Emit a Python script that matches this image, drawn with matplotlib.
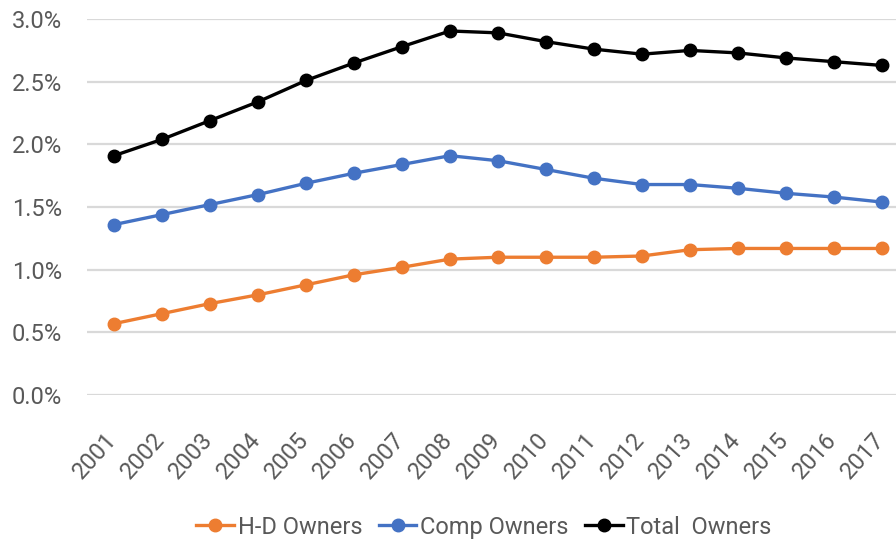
import numpy as np
import matplotlib
matplotlib.use("Agg")
import matplotlib.pyplot as plt
import matplotlib.transforms as mtransforms
from matplotlib.ticker import PercentFormatter

plt.rcParams['font.family'] = ['Roboto', 'DejaVu Sans']

years = [str(y) for y in range(2001, 2018)]
hd_owners = [0.57, 0.65, 0.73, 0.80, 0.88, 0.96, 1.02, 1.085, 1.10, 1.10,
             1.10, 1.11, 1.16, 1.17, 1.17, 1.17, 1.17]
comp_owners = [1.36, 1.44, 1.52, 1.60, 1.69, 1.77, 1.84, 1.91, 1.87, 1.80,
               1.73, 1.68, 1.68, 1.65, 1.61, 1.58, 1.54]
total_owners = [1.91, 2.04, 2.19, 2.34, 2.51, 2.65, 2.78, 2.905, 2.89, 2.82,
                2.76, 2.72, 2.75, 2.73, 2.69, 2.66, 2.63]
yticks = [0.0, 0.5, 1.0, 1.5, 2.0, 2.5, 3.0]

grey = '#595959'
fig = plt.figure(figsize=(8.96, 5.45), dpi=100)
ax = fig.add_axes([0.097, 0.275, 0.903, 0.69])

x = np.arange(len(years))
series = [
    (hd_owners, '#ed7d31', 'H-D Owners'),
    (comp_owners, '#4472c4', 'Comp Owners'),
    (total_owners, '#000000', 'Total  Owners'),
]
for vals, col, lab in series:
    ax.plot(x, vals, color=col, lw=2.4, marker='o', ms=9, label=lab,
            clip_on=False)

ax.set_ylim(0, 3.0)
ax.set_yticks(yticks)
ax.yaxis.set_major_formatter(PercentFormatter(decimals=1))
ax.set_xlim(-0.5625, 16.29)
ax.set_xticks(x)
ax.set_xticklabels([])
# rotated year labels, nudged left like excel
off = mtransforms.ScaledTranslation(-7 / 72, -24 / 72, fig.dpi_scale_trans)
for i, yr in zip(x, years):
    ax.text(i, 0, yr, transform=ax.get_xaxis_transform() + off,
            rotation=48, ha='right', va='top', rotation_mode='anchor',
            fontsize=17, color=grey)
ax.grid(axis='y', color='#d9d9d9', lw=1.6)
ax.set_axisbelow(True)
for s in ax.spines.values():
    s.set_visible(False)
ax.tick_params(axis='y', length=0, pad=18, labelsize=17, labelcolor=grey)
ax.tick_params(axis='x', length=0)

fig.legend(loc='center', bbox_to_anchor=(0.54, 0.033), ncol=3, frameon=False,
           fontsize=17, labelcolor=grey, handlelength=1.6, handletextpad=0.15,
           columnspacing=0.7, borderaxespad=0)

fig.savefig('out.png', dpi=100)
